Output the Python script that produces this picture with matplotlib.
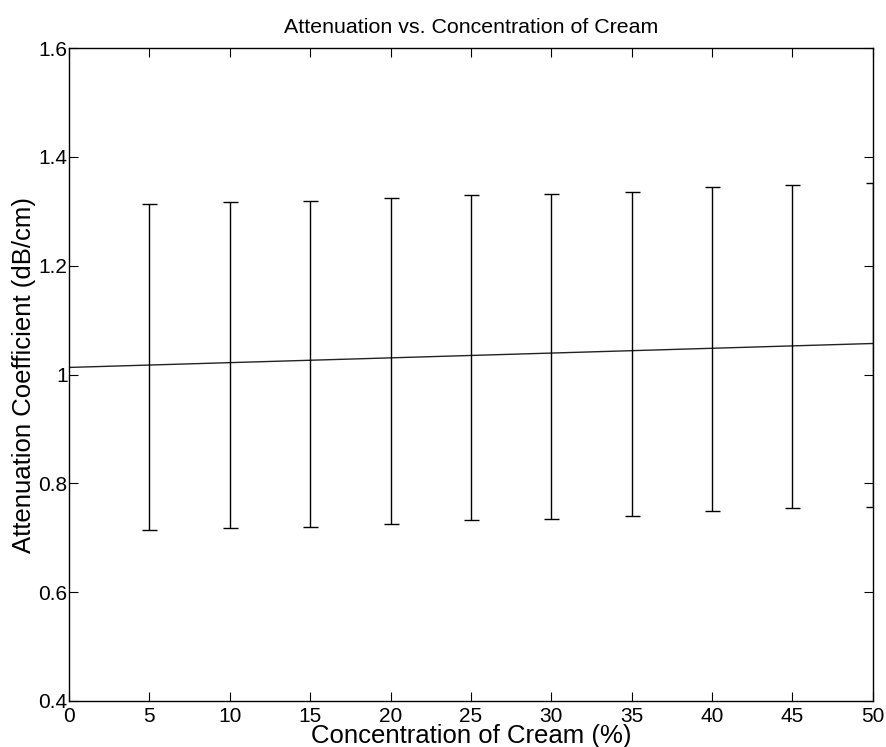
import matplotlib
matplotlib.use("Agg")
import matplotlib.pyplot as plt

# valores
conc = [5, 10, 15, 20, 25, 30, 35, 40, 45, 50]
media = [1.016, 1.018, 1.021, 1.025, 1.030, 1.034, 1.038, 1.046, 1.051, 1.056]
sup = [1.314, 1.317, 1.318, 1.324, 1.330, 1.332, 1.336, 1.344, 1.349, 1.352]
inf = [0.714, 0.717, 0.719, 0.725, 0.733, 0.735, 0.740, 0.749, 0.754, 0.756]

# reta de ajuste (extremos lidos)
linha_x = [0, 50]
linha_y = [1.013, 1.057]

xticks = [0, 5, 10, 15, 20, 25, 30, 35, 40, 45, 50]
yticks = [0.4, 0.6, 0.8, 1, 1.2, 1.4, 1.6]
ytick_labels = ["0.4", "0.6", "0.8", "1", "1.2", "1.4", "1.6"]

plt.rcParams["font.family"] = ["Liberation Sans", "DejaVu Sans"]

fig = plt.figure(figsize=(8.87, 7.47), dpi=100)
ax = fig.add_axes([0.0778, 0.0616, 0.9062, 0.8741])

erro_inf = [m - l for m, l in zip(media, inf)]
erro_sup = [u - m for m, u in zip(media, sup)]

ax.plot(linha_x, linha_y, color="#222222", lw=1.0)
ax.errorbar(conc, media, yerr=[erro_inf, erro_sup], fmt="none",
            ecolor="black", elinewidth=1.0, capsize=5.4, capthick=1.0)

ax.set_xlim(0, 50)
ax.set_ylim(0.4, 1.6)
ax.set_xticks(xticks)
ax.set_yticks(yticks)
ax.set_yticklabels(ytick_labels)
ax.tick_params(direction="in", length=6.5, width=0.8, top=True, right=True,
               labelsize=15, colors="black")
ax.tick_params(axis="y", pad=1)
ax.tick_params(axis="x", pad=4)
for s in ax.spines.values():
    s.set_linewidth(1.0)

ax.set_title("Attenuation vs. Concentration of Cream", fontsize=15.4, pad=11)
ax.set_xlabel("Concentration of Cream (%)", fontsize=18.5, labelpad=-1)
ax.set_ylabel("Attenuation Coefficient (dB/cm)", fontsize=18.5, labelpad=2)

fig.savefig("out.png", dpi=100)
